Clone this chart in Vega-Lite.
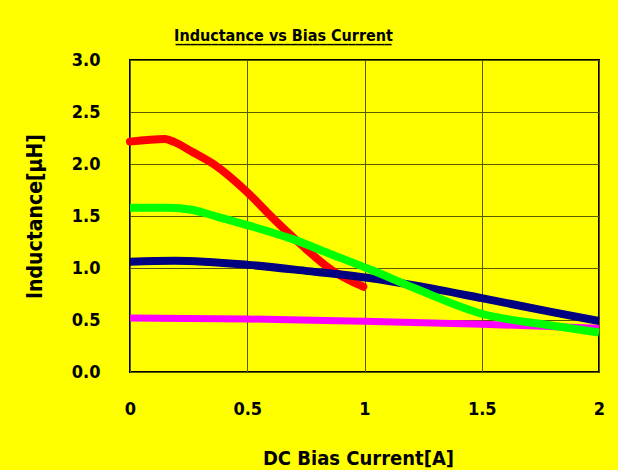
{
  "$schema": "https://vega.github.io/schema/vega-lite/v6.json",
  "width": 469,
  "height": 312,
  "autosize": {"type": "none"},
  "padding": {"left": 130, "top": 60, "right": 19, "bottom": 98},
  "background": "#FFFF00",
  "config": {
    "font": "Liberation Sans Narrow, DejaVu Sans Condensed, Arial",
    "view": {"stroke": "#000000", "strokeWidth": 2, "fill": "#FFFF00"}
  },
  "title": {
    "text": "Inductance vs Bias Current",
    "subtitle": "______________________________",
    "fontSize": 16,
    "fontWeight": "bold",
    "subtitleFontSize": 16,
    "subtitleFontWeight": "bold",
    "subtitleColor": "#000000",
    "subtitlePadding": -15,
    "color": "#000000",
    "frame": "group",
    "anchor": "middle",
    "dx": -81,
    "offset": 6
  },
  "data": {
    "values": [
      {"s": "red", "x": 0, "y": 2.215},
      {"s": "red", "x": 0.149, "y": 2.24},
      {"s": "red", "x": 0.19, "y": 2.21},
      {"s": "red", "x": 0.263, "y": 2.12},
      {"s": "red", "x": 0.362, "y": 1.99},
      {"s": "red", "x": 0.504, "y": 1.72},
      {"s": "red", "x": 0.618, "y": 1.46},
      {"s": "red", "x": 0.732, "y": 1.22},
      {"s": "red", "x": 0.86, "y": 0.98},
      {"s": "red", "x": 0.995, "y": 0.82},
      {"s": "navy", "x": 0, "y": 1.06},
      {"s": "navy", "x": 0.19, "y": 1.07},
      {"s": "navy", "x": 0.504, "y": 1.03},
      {"s": "navy", "x": 0.76, "y": 0.97},
      {"s": "navy", "x": 1.03, "y": 0.9},
      {"s": "navy", "x": 1.22, "y": 0.83},
      {"s": "navy", "x": 1.5, "y": 0.71},
      {"s": "navy", "x": 1.79, "y": 0.58},
      {"s": "navy", "x": 2.0, "y": 0.49},
      {"s": "magenta", "x": 0, "y": 0.52},
      {"s": "magenta", "x": 0.5, "y": 0.51},
      {"s": "magenta", "x": 0.94, "y": 0.49},
      {"s": "magenta", "x": 1.5, "y": 0.46},
      {"s": "magenta", "x": 2.0, "y": 0.42},
      {"s": "green", "x": 0, "y": 1.58},
      {"s": "green", "x": 0.163, "y": 1.58},
      {"s": "green", "x": 0.263, "y": 1.56},
      {"s": "green", "x": 0.377, "y": 1.49},
      {"s": "green", "x": 0.504, "y": 1.41},
      {"s": "green", "x": 0.69, "y": 1.28},
      {"s": "green", "x": 0.86, "y": 1.13},
      {"s": "green", "x": 1.03, "y": 0.98},
      {"s": "green", "x": 1.22, "y": 0.8},
      {"s": "green", "x": 1.5, "y": 0.56},
      {"s": "green", "x": 1.79, "y": 0.45},
      {"s": "green", "x": 2.0, "y": 0.38}
    ]
  },
  "encoding": {
    "x": {
      "field": "x", "type": "quantitative",
      "scale": {"domain": [0, 2], "nice": false, "zero": false},
      "axis": {
        "title": "DC Bias Current[A]",
        "values": [0, 0.5, 1, 1.5, 2],
        "format": "~g",
        "grid": true, "gridColor": "#5a5a00", "gridWidth": 1,
        "ticks": false, "domain": false,
        "labelFontSize": 18, "labelFontWeight": "bold", "labelColor": "#000000",
        "labelPadding": 28, "labelFlush": false,
        "titleFontSize": 20, "titleFontWeight": "bold", "titleColor": "#000000",
        "titleX": 228, "titleY": 86, "titleBaseline": "middle"
      }
    },
    "y": {
      "field": "y", "type": "quantitative",
      "scale": {"domain": [0, 3], "nice": false},
      "axis": {
        "title": "Inductance[μH]",
        "values": [0, 0.5, 1, 1.5, 2, 2.5, 3],
        "format": ".1f",
        "grid": true, "gridColor": "#5a5a00", "gridWidth": 1,
        "ticks": false, "domain": false,
        "labelFontSize": 18, "labelFontWeight": "bold", "labelColor": "#000000",
        "labelPadding": 30,
        "titleFontSize": 21, "titleFontWeight": "bold", "titleColor": "#000000",
        "titleX": -95, "titleY": 156, "titleBaseline": "middle", "titleAngle": -90
      }
    }
  },
  "layer": [
    {"transform": [{"filter": "datum.s === 'red'"}], "mark": {"type": "line", "color": "#FF0000", "strokeWidth": 8, "interpolate": "monotone", "strokeCap": "round"}},
    {"transform": [{"filter": "datum.s === 'navy'"}], "mark": {"type": "line", "color": "#000080", "strokeWidth": 8, "interpolate": "monotone"}},
    {"transform": [{"filter": "datum.s === 'magenta'"}], "mark": {"type": "line", "color": "#FF00FF", "strokeWidth": 7, "interpolate": "monotone"}},
    {"transform": [{"filter": "datum.s === 'green'"}], "mark": {"type": "line", "color": "#00FF00", "strokeWidth": 8, "interpolate": "monotone"}}
  ]
}
